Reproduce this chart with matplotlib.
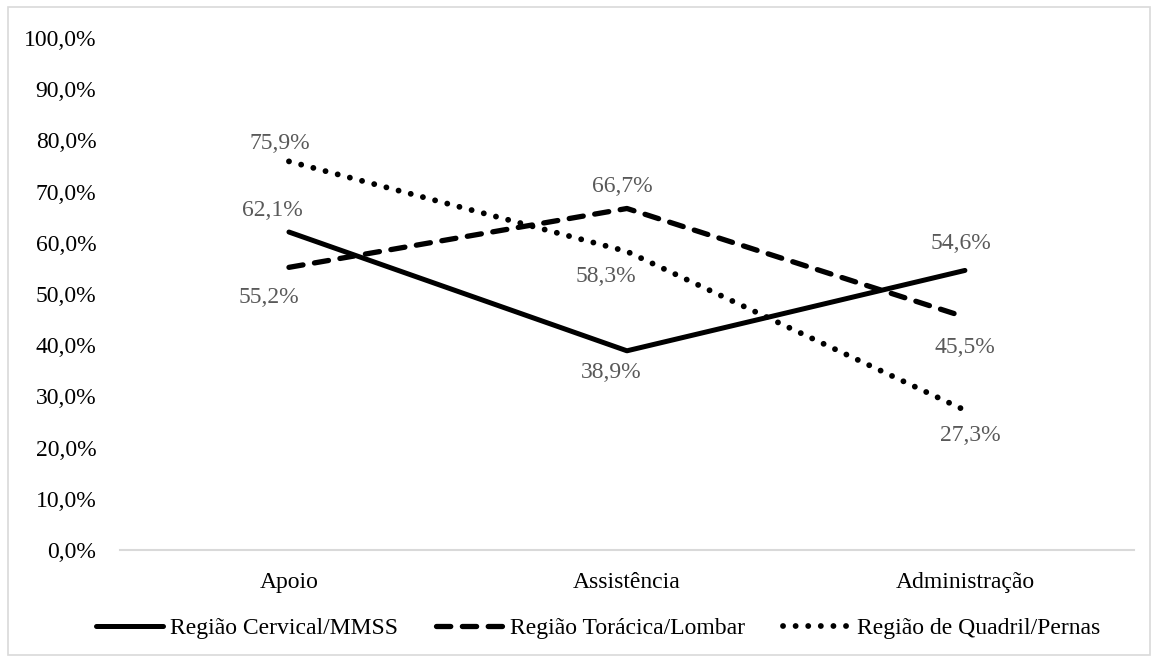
import matplotlib.pyplot as plt
from matplotlib.patches import Rectangle
from matplotlib.ticker import FuncFormatter

plt.rcParams['font.family'] = ['Liberation Serif', 'DejaVu Serif']

# categories and prevalence per body region
setores = ["Apoio", "Assistência", "Administração"]
cervical = [62.1, 38.9, 54.6]
toracica = [55.2, 66.7, 45.5]
quadril = [75.9, 58.3, 27.3]
nomes = ["Região Cervical/MMSS", "Região Torácica/Lombar", "Região de Quadril/Pernas"]
yticks = [0, 10, 20, 30, 40, 50, 60, 70, 80, 90, 100]

# label placement (pixel offsets) for each point
offs_cervical = [(-17, 22), (-16, -22), (-4, 27)]
offs_toracica = [(-20, -30), (-5, 22), (0, -30)]
offs_quadril = [(-9, 18), (-21, -25), (5, -25)]

FS = 17


def pct(v):
    return f"{v:.1f}%".replace(".", ",")


fig = plt.figure(figsize=(11.58, 6.61), dpi=100)
ax = fig.add_axes([0.1036, 0.168, 0.8756, 0.7745])

x = range(len(setores))
series = [
    (cervical, dict(ls="-", lw=3.6, solid_capstyle="round"), offs_cervical),
    (toracica, dict(ls=(0, (2.7, 2.2)), lw=3.8, dash_capstyle="round"), offs_toracica),
    (quadril, dict(ls=(0, (0.01, 2.15)), lw=4.2, dash_capstyle="round"), offs_quadril),
]
for (vals, style, offs), nome in zip(series, nomes):
    ax.plot(x, vals, color="black", label=nome, **style)
    for xi, v, (dx, dy) in zip(x, vals, offs):
        ax.annotate(pct(v), (xi, v), xytext=(dx, dy), textcoords="offset pixels",
                    ha="center", va="center", fontsize=FS, color="#595959")

ax.set_xlim(-0.5, 2.5)
ax.set_ylim(0, 100)
ax.set_yticks(yticks)
ax.yaxis.set_major_formatter(FuncFormatter(lambda v, _: pct(v)))
ax.set_xticks(list(x))
ax.set_xticklabels(setores)
ax.tick_params(axis="y", length=0, pad=17, labelsize=FS)
ax.tick_params(axis="x", length=0, pad=16, labelsize=FS)
for s in ["top", "right", "left"]:
    ax.spines[s].set_visible(False)
ax.spines["bottom"].set_color("#d9d9d9")
ax.spines["bottom"].set_linewidth(1.5)

fig.legend(loc="center", bbox_to_anchor=(598 / 1158, 1 - 628 / 661), ncol=3,
           frameon=False, fontsize=FS, handlelength=2.85, handletextpad=0.3,
           columnspacing=1.6)

# light outer frame
fig.patches.append(Rectangle((8 / 1158, 6 / 661), 1142 / 1158, 648 / 661,
                             transform=fig.transFigure, fill=False,
                             edgecolor="#d9d9d9", lw=1.2))

fig.savefig("out.png", dpi=100)
